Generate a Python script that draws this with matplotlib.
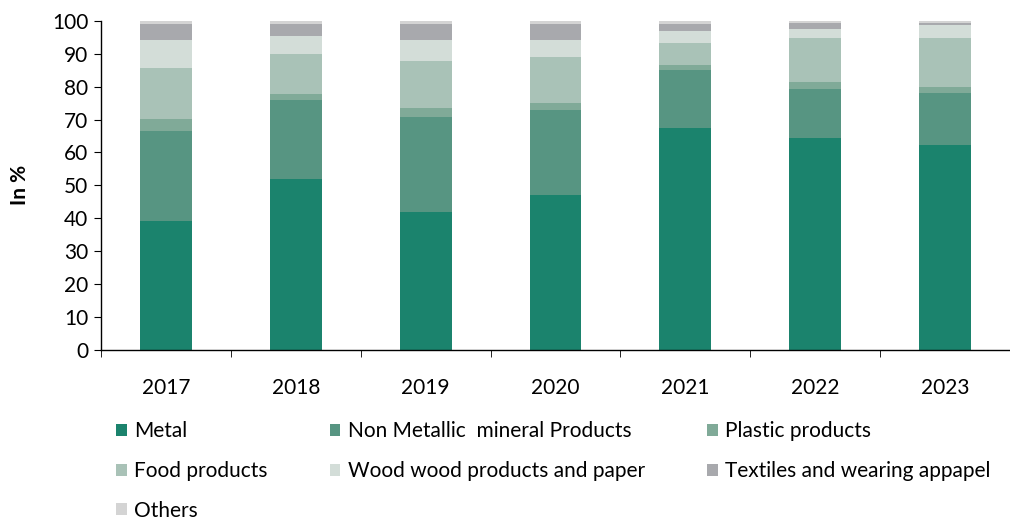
import matplotlib
matplotlib.use('Agg')
import matplotlib.pyplot as plt
import numpy as np

plt.rcParams['font.family'] = ['Lato', 'DejaVu Sans']

years = ['2017', '2018', '2019', '2020', '2021', '2022', '2023']

# shares by sector, in %
metal = [39.2, 52.0, 42.0, 47.1, 67.5, 64.4, 62.3]
non_metallic = [27.4, 24.0, 28.8, 25.9, 17.6, 14.9, 15.8]
plastic = [3.6, 1.8, 2.8, 2.1, 1.5, 2.2, 1.8]
food = [15.5, 12.2, 14.2, 14.0, 6.7, 13.3, 14.9]
wood = [8.5, 5.4, 6.4, 5.1, 3.7, 2.8, 4.0]
textiles = [4.9, 3.7, 4.9, 4.9, 2.1, 1.6, 0.6]
others = [0.9, 0.9, 0.9, 0.9, 0.9, 0.8, 0.6]

series = [
    ('Metal', metal, '#1b836d'),
    ('Non Metallic  mineral Products', non_metallic, '#579582'),
    ('Plastic products', plastic, '#80aa98'),
    ('Food products', food, '#a9c2b7'),
    ('Wood wood products and paper', wood, '#d3ddd8'),
    ('Textiles and wearing appapel', textiles, '#a8a9ad'),
    ('Others', others, '#d4d4d4'),
]

fig = plt.figure(figsize=(10.1, 5.2), dpi=100)
ax = fig.add_axes([0.1, 0.327, 0.9, 0.633])

x = np.arange(len(years))
bottom = np.zeros(len(years))
handles = {}
for name, vals, col in series:
    b = ax.bar(x, vals, width=0.4, bottom=bottom, color=col, label=name)
    handles[name] = b
    bottom += np.array(vals)

ax.set_xlim(-0.5, len(years) - 0.5)
ax.set_ylim(0, 100)
ax.set_yticks(range(0, 101, 10))
ax.set_xticks(x)
ax.set_xticklabels(years)
ax.set_xticks(np.arange(-0.5, len(years)), minor=True)
ax.tick_params(axis='x', which='major', length=0, pad=20, labelsize=15)
ax.tick_params(axis='x', which='minor', length=5, direction='out')
ax.tick_params(axis='y', length=5, direction='out', labelsize=15, pad=4)
for s in ['top', 'right']:
    ax.spines[s].set_visible(False)
ax.spines['left'].set_linewidth(1)
ax.spines['bottom'].set_linewidth(1)
ax.set_ylabel('In %', fontsize=15, fontweight='bold', labelpad=16)

# legend filled row by row across three columns
order = [0, 3, 6, 1, 4, 2, 5]
hs = [handles[series[i][0]] for i in order]
ls = [series[i][0] for i in order]
fig.legend(hs, ls, ncol=3, loc='upper left', bbox_to_anchor=(0.115, 0.19),
           frameon=False, fontsize=15, handlelength=0.5, handleheight=0.5,
           handletextpad=0.35, columnspacing=3.0, labelspacing=0.95,
           borderaxespad=0, borderpad=0)

fig.savefig('out.png', dpi=100)
